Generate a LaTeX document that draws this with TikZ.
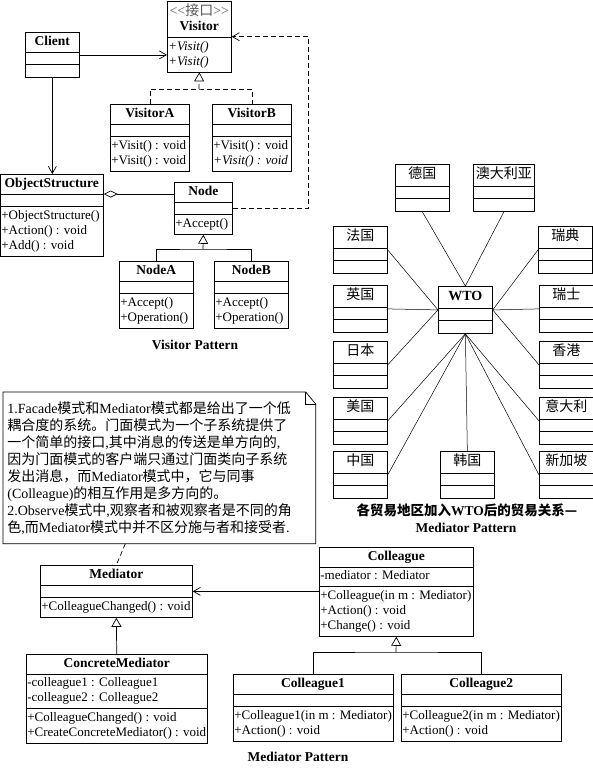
\documentclass[tikz,border=0pt]{standalone}
\usepackage{fontspec}
\setmainfont{Liberation Serif}
\newfontfamily\cjk{Noto Sans CJK SC}
\usetikzlibrary{arrows.meta,shapes.multipart}

\newcommand\zh[1]{{\cjk #1}}
\newcommand\ttl[1]{{\fontsize{13.5}{15}\selectfont\bfseries #1\strut}}
\newcommand\rows[1]{\begin{tabular}{@{}l@{}}#1\end{tabular}}

\tikzset{
  umlclass/.style={draw, rectangle split, rectangle split parts=3,
    rectangle split part align={center,left,left},
    rectangle split empty part height=8pt, rectangle split empty part depth=0pt,
    inner xsep=1pt, inner ysep=2pt, anchor=north west,
    font=\fontsize{13}{15}\selectfont},
  wtobox/.style={umlclass, minimum width=54pt, font=\fontsize{14}{17}\selectfont\cjk},
  assoc/.style={-{Straight Barb[length=7pt,width=8pt]}},
  inherit/.style={-{Triangle[open,length=9pt,width=10pt]}},
  realize/.style={inherit, dash pattern=on 5pt off 3pt},
  depend/.style={assoc, dash pattern=on 5pt off 3pt},
  aggr/.style={{Diamond[open,length=14pt,width=7pt]}-},
  notebox/.style={anchor=north west, text width=304pt, align=left, inner xsep=4pt,
    inner ysep=0pt, minimum height=151pt, font=\fontsize{14}{17}\selectfont},
  caption/.style={font=\fontsize{13.5}{16}\selectfont\bfseries}
}

\begin{document}
\begin{tikzpicture}[x=1pt,y=-1pt,line width=0.7pt]
  \useasboundingbox (0,0) rectangle (593,768);

  % visitor pattern
  \node[umlclass, rectangle split parts=2, minimum width=64pt] (visitor) at (167,1)
    {\begin{tabular}{@{}c@{}}{\fontsize{14}{15}\selectfont\color{black!65}\textless\kern0pt\textless\zh{接口}>\kern0pt>}\\ \ttl{Visitor}\end{tabular}
     \nodepart{second}\rows{\textit{+Visit()}\\ \textit{+Visit()}}};
  \node[umlclass, minimum width=54pt] (client) at (25,32)
    {\ttl{Client} \nodepart{second} \nodepart{third}};
  \node[umlclass, minimum width=79pt] (visa) at (110,104)
    {\ttl{VisitorA} \nodepart{second} \nodepart{third}\rows{+Visit() : void\\ +Visit() : void}};
  \node[umlclass, minimum width=79pt] (visb) at (212,104)
    {\ttl{VisitorB} \nodepart{second} \nodepart{third}\rows{+Visit() : void\\ \textit{+Visit() : void}}};
  \node[umlclass, minimum width=103pt] (objs) at (0,174)
    {\ttl{ObjectStructure} \nodepart{second}
     \nodepart{third}\rows{+ObjectStructure()\\ +Action() : void\\ +Add() : void}};
  \node[umlclass, minimum width=58pt] (node) at (174,182)
    {\ttl{Node} \nodepart{second} \nodepart{third}\rows{+Accept()}};
  \node[umlclass, minimum width=74pt] (nodea) at (119,261)
    {\ttl{NodeA} \nodepart{second} \nodepart{third}\rows{+Accept()\\ +Operation()}};
  \node[umlclass, minimum width=74pt] (nodeb) at (214,261)
    {\ttl{NodeB} \nodepart{second} \nodepart{third}\rows{+Accept()\\ +Operation()}};
  \node[caption] (vcap) at (195,345) {Visitor Pattern};

  \draw[assoc] (client.east) -- (client.east -| visitor.west);
  \draw[assoc] (client.south) -- (client.south |- objs.north);
  \coordinate (vj) at (199,89);
  \draw[dash pattern=on 5pt off 3pt] (visa.north) |- (vj) -| (visb.north);
  \draw[realize] (vj) -- (visitor.south);
  \draw[depend] (node.east) -- ++(76,0) |- (visitor.east);
  \draw[aggr] (objs.text split east) -- (objs.text split east -| node.west);
  \coordinate (nj) at (203,249);
  \draw (nodea.north) |- (nj) -| (nodeb.north);
  \draw[inherit] (nj) -- (node.south);

  % wto
  \foreach \n/\x/\y/\t in {de/395/164/德国, fr/333/226/法国, sw/538/226/瑞典,
      uk/333/285/英国, ch/539/285/瑞士, jp/333/341/日本, hk/539/341/香港,
      us/333/397/美国, it/539/397/意大利, cn/333/451/中国, kr/440/451/韩国,
      sg/539/451/新加坡}
    \node[wtobox] (\n) at (\x,\y) {\t\strut \nodepart{second} \nodepart{third}};
  \node[wtobox, minimum width=61pt] (au) at (473,164) {澳大利亚\strut \nodepart{second} \nodepart{third}};
  \node[wtobox] (wto) at (438,286) {\rmfamily\bfseries WTO\strut \nodepart{second} \nodepart{third}};
  \foreach \c/\s/\t in {de/south/north, au/south/north, fr/east/west, uk/east/west,
      jp/east/west, us/east/south, cn/east/south, kr/north/south, sw/west/east,
      ch/west/east, hk/west/east, it/west/south, sg/west/south}
    \draw[line width=0.5pt] (\c.\s) -- (wto.\t);
  \node[caption] (wcap) at (467,510) {\zh{各贸易地区加入}WTO\zh{后的贸易关系—}};
  \node[caption] (wcap2) at (466,528) {Mediator Pattern};

  % note
  \node[notebox] (note) at (3,392)
    {1.Facade\zh{模式和}Mediator\zh{模式都是给出了一个低}\\
     \zh{耦合度的系统。门面模式为一个子系统提供了}\\
     \zh{一个简单的接口},\zh{其中消息的传送是单方向的},\\
     \zh{因为门面模式的客户端只通过门面类向子系统}\\
     \zh{发出消息，而}Mediator\zh{模式中，它与同事}\\
     (Colleague)\zh{的相互作用是多方向的。}\\
     2.Observe\zh{模式中},\zh{观察者和被观察者是不同的角}\\
     \zh{色},\zh{而}Mediator\zh{模式中并不区分施与者和接受者}.};
  \draw (note.north west) -- ([xshift=-10pt]note.north east)
    -- ([yshift=-12pt]note.north east) -- (note.south east) -- (note.south west) -- cycle;
  \draw ([xshift=-10pt]note.north east) -- ++(0,12) -- ([yshift=-12pt]note.north east);

  % mediator pattern
  \node[umlclass, minimum width=152pt] (mediator) at (40,565)
    {\ttl{Mediator} \nodepart{second} \nodepart{third}\rows{+ColleagueChanged() : void}};
  \node[umlclass, minimum width=180pt] (cmed) at (26,654)
    {\ttl{ConcreteMediator}
     \nodepart{second}\rows{-colleague1 : Colleague1\\ -colleague2 : Colleague2}
     \nodepart{third}\rows{+ColleagueChanged() : void\\ +CreateConcreteMediator() : void}};
  \node[umlclass, minimum width=154pt] (colleague) at (319,547)
    {\ttl{Colleague} \nodepart{second}\rows{-mediator : Mediator}
     \nodepart{third}\rows{+Colleague(in m : Mediator)\\ +Action() : void\\ +Change() : void}};
  \node[umlclass, minimum width=159pt] (col1) at (233,674)
    {\ttl{Colleague1} \nodepart{second}
     \nodepart{third}\rows{+Colleague1(in m : Mediator)\\ +Action() : void}};
  \node[umlclass, minimum width=160pt] (col2) at (401,674)
    {\ttl{Colleague2} \nodepart{second}
     \nodepart{third}\rows{+Colleague2(in m : Mediator)\\ +Action() : void}};
  \node[caption] (mcap) at (298,757) {Mediator Pattern};

  \draw[dash pattern=on 5pt off 3pt] ([xshift=-34pt]note.south) -- (mediator.north);
  \draw[assoc] (mediator.east -| colleague.west) -- (mediator.east);
  \draw[inherit] (cmed.north) -- (mediator.south);
  \coordinate (cj) at (396,652);
  \draw (col1.north) |- (cj) -| (col2.north);
  \draw[inherit] (cj) -- (colleague.south);
\end{tikzpicture}
\end{document}
